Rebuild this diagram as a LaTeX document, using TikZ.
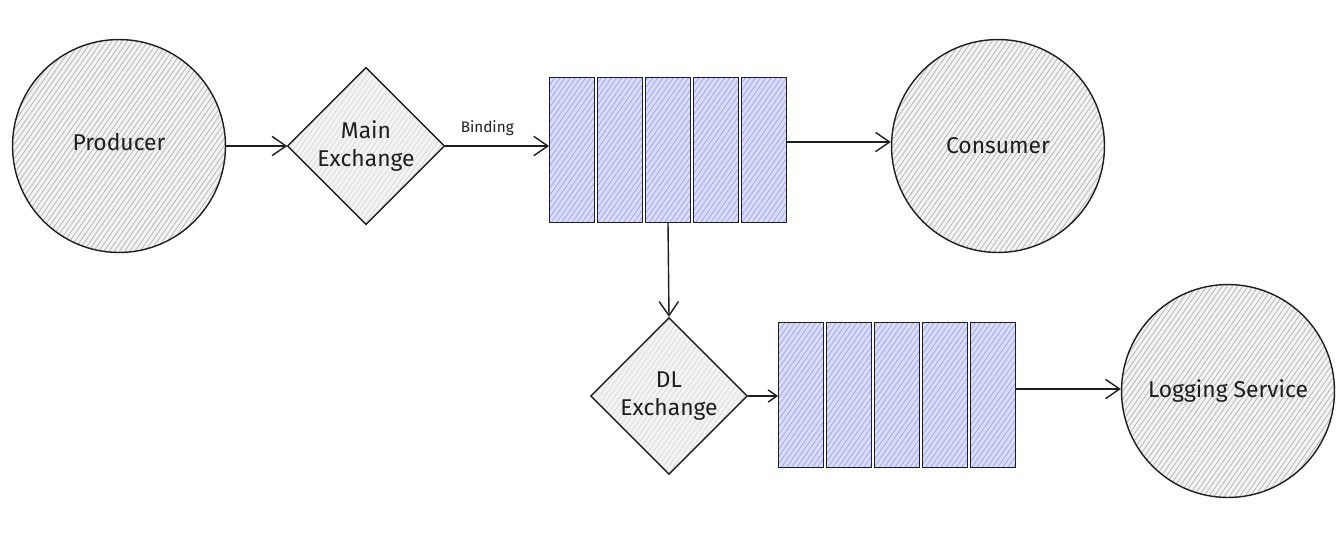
\documentclass[tikz,border=0pt]{standalone}
\usepackage{fontspec}
\setmainfont{Fira Sans}
\usetikzlibrary{shapes.geometric,arrows.meta,patterns.meta}
\definecolor{ink}{HTML}{1E1E1E}
\definecolor{grayfill}{HTML}{F3F3F3}
\definecolor{grayhatch}{HTML}{B0B0B0}
\definecolor{bluefill}{HTML}{DADDFA}
\definecolor{bluehatch}{HTML}{9CA1F0}
\tikzset{
  base/.style={draw=ink, line width=0.8pt, text=ink, inner sep=0pt, align=center, font=\fontsize{13}{16}\selectfont},
  actor/.style={base, circle, minimum size=4.26cm,
    preaction={fill=grayfill}, pattern={Lines[angle=55,distance=2.4pt,line width=0.4pt]}, pattern color=grayhatch},
  exch/.style={base, diamond, minimum width=3.14cm, minimum height=3.14cm, shape aspect=1,
    preaction={fill=grayfill}, pattern={Lines[angle=55,distance=2.4pt,line width=0.3pt]}, pattern color=grayhatch!55!white},
  slot/.style={base, rectangle, minimum width=0.89cm, minimum height=2.9cm,
    preaction={fill=bluefill}, pattern={Lines[angle=55,distance=2.4pt,line width=0.4pt]}, pattern color=bluehatch},
  flow/.style={draw=ink, line width=0.8pt, -{Straight Barb[length=8pt,width=11pt,line width=0.8pt]}},
  smallflow/.style={draw=ink, line width=0.8pt, -{Straight Barb[length=5pt,width=7pt,line width=0.8pt]}},
}
\begin{document}
\begin{tikzpicture}[x=0.02cm,y=-0.02cm]
\useasboundingbox (0,0) rectangle (1342,532);
% actors
\node[actor] (prod) at (119,146) {\raisebox{5pt}{Producer}};
\node[actor] (cons) at (998,146) {Consumer};
\node[actor] (log) at (1228,391) {\raisebox{2pt}{Logging Service}};
% exchanges
\node[exch] (main) at (366,146) {Main\\Exchange};
\node[exch] (dl) at (669,396) {DL\\Exchange};
% queue 1
\node[slot] (qa) at (572,150) {};
\node[slot] (qb) at (620,150) {};
\node[slot] (qc) at (668,150) {};
\node[slot] (qd) at (716,150) {};
\node[slot] (qe) at (764,150) {};
% queue 2
\node[slot] (ra) at (801,395) {};
\node[slot] (rb) at (849,395) {};
\node[slot] (rc) at (897,395) {};
\node[slot] (rd) at (945,395) {};
\node[slot] (re) at (993,395) {};
% connectors
\draw[flow] (prod.east |- main.west) -- (main.west);
\draw[flow] (main.east) -- node[above=2pt, font=\fontsize{8.7}{10}\selectfont, text=ink, xshift=-5.5pt] (bind) {Binding} (qa.west |- main.east);
\draw[flow] (qe.east |- 0,142) -- (cons.west |- 0,142);
\draw[flow] (qc.south) -- (dl.north);
\draw[smallflow] (dl.east) -- (ra.west |- dl.east);
\draw[flow] (re.east |- 0,389) -- (log.west |- 0,389);
\end{tikzpicture}
\end{document}
